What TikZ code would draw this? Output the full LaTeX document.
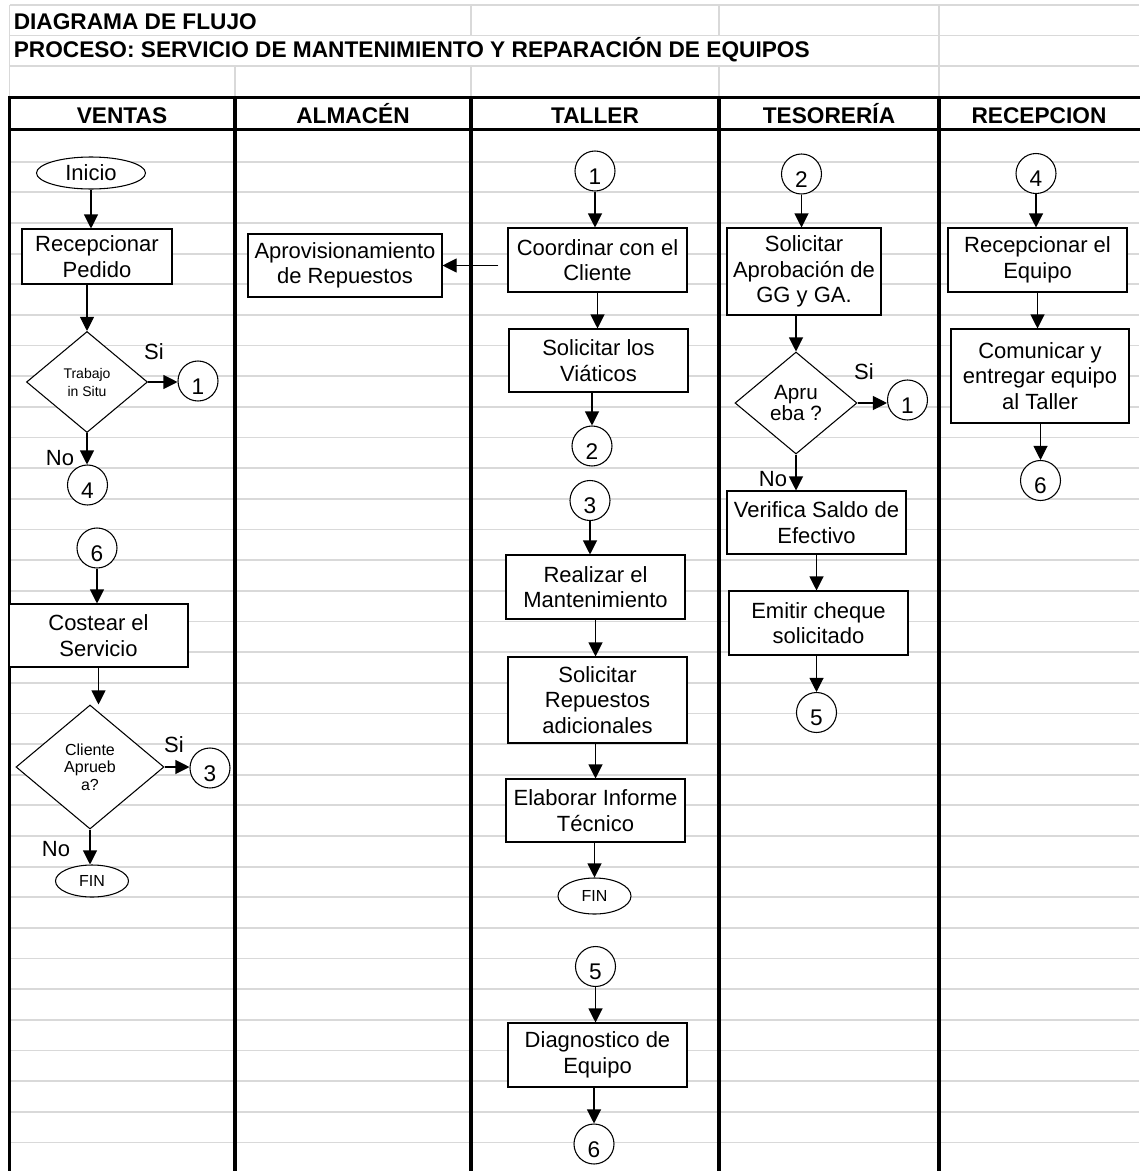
\documentclass[tikz,border=0pt]{standalone}
\usepackage{fontspec}
\setmainfont{Liberation Sans}
\usetikzlibrary{shapes.geometric,arrows.meta}
\definecolor{gridgray}{RGB}{217,217,217}
\begin{document}
\begin{tikzpicture}[x=0.75pt,y=-0.75pt,
  proc/.style={draw,line width=0.8pt,fill=white,rectangle,inner sep=0pt,align=center,font=\fontsize{16.5pt}{19.2pt}\selectfont},
  dec/.style={draw,line width=0.8pt,fill=white,diamond,inner sep=0pt,align=center},
  termnode/.style={draw,line width=0.8pt,fill=white,ellipse,inner sep=0pt},
  conn/.style={draw,line width=0.8pt,fill=white,circle,inner sep=0pt,minimum size=30pt,text height=20pt,text depth=0pt,font=\fontsize{17pt}{19.2pt}\selectfont},
  arr/.style={line width=0.8pt,-{Triangle[length=10.5pt,width=10.5pt]}},
  lbl/.style={inner sep=0pt,font=\fontsize{16.5pt}{19.2pt}\selectfont},
  laneline/.style={line width=2.5pt,line cap=rect},
  gline/.style={draw=gridgray,line width=1.3pt},
  hdr/.style={inner sep=0pt,anchor=base,font=\fontsize{17pt}{19.2pt}\selectfont\bfseries},
]
\useasboundingbox (0,0) rectangle (1139,1171);
\fill[white] (0,0) rectangle (1139,1171);
% grid
\foreach \yy in {5,35.5,66} \draw[gline] (9.5,\yy) -- (1139,\yy);
\foreach \k in {0,...,32} \draw[gline] (9.5,{161.7+30.65*\k}) -- (1139,{161.7+30.65*\k});
\draw[gline] (9.5,5) -- (9.5,97.7);
\draw[gline] (235,66) -- (235,97.7);
\draw[gline] (471,5) -- (471,35.5) (471,66) -- (471,97.7);
\draw[gline] (719,5) -- (719,35.5) (719,66) -- (719,97.7);
\draw[gline] (939,5) -- (939,97.7);
% lanes
\draw[laneline] (9.5,97.7) -- (1139,97.7);
\draw[laneline] (9.5,129.3) -- (1139,129.3);
\foreach \xx in {9.5,235,471,719,939} \draw[laneline] (\xx,97.7) -- (\xx,1171);
% titles
\node[hdr,anchor=base west] (t1) at (13.5,29.3) {DIAGRAMA DE FLUJO};
\node[hdr,anchor=base west] (t2) at (13.5,57.3) {PROCESO: SERVICIO DE MANTENIMIENTO Y REPARACIÓN DE EQUIPOS};
\node[hdr] (h1) at (122,123.3) {VENTAS};
\node[hdr] (h2) at (353,123.3) {ALMACÉN};
\node[hdr] (h3) at (595,123.3) {TALLER};
\node[hdr] (h4) at (829,123.3) {TESORERÍA};
\node[hdr] (h5) at (1039,123.3) {RECEPCION};
% VENTAS
\node[termnode,minimum width=81.75pt,minimum height=24pt,font=\fontsize{16.5pt}{19.2pt}\selectfont] (ini) at (91,173) {Inicio};
\node[proc,minimum width=112.5pt,minimum height=41.25pt] (rp) at (97,256.5) {Recepcionar\\Pedido};
\node[dec,minimum width=90.75pt,minimum height=75.75pt,font=\fontsize{10.5pt}{13.5pt}\selectfont] (d1) at (87,382) {Trabajo\\in Situ};
\node[conn] (c1a) at (198,381) {1};
\node[conn] (c4a) at (87.5,485) {4};
\node[conn] (c6a) at (97,548) {6};
\node[proc,minimum width=134.25pt,minimum height=47.25pt] (cs) at (98.5,635.5) {Costear el\\Servicio};
\node[dec,minimum width=111pt,minimum height=93pt,font=\fontsize{12pt}{13.2pt}\selectfont] (d2) at (90,767) {Cliente\\Aprueb\\a?};
\node[conn] (c3a) at (210,768) {3};
\node[termnode,minimum width=54.75pt,minimum height=24pt,font=\fontsize{12pt}{14pt}\selectfont] (fin1) at (92,881) {FIN};
\node[lbl] (si1) at (154,352) {Si};
\node[lbl] (no1) at (60,458) {No};
\node[lbl] (si2) at (174,745) {Si};
\node[lbl] (no2) at (56,849) {No};
% ALMACEN
\node[proc,minimum width=145.5pt,minimum height=47.25pt] (apr) at (345,265.5) {Aprovisionamiento\\de Repuestos};
% TALLER
\node[conn] (c1b) at (595,171) {1};
\node[proc,minimum width=134.25pt,minimum height=48pt] (coord) at (597.5,260) {Coordinar con el\\Cliente};
\node[proc,minimum width=134.25pt,minimum height=47.25pt] (sv) at (598.5,360.5) {Solicitar los\\Viáticos};
\node[conn] (c2b) at (592,446) {2};
\node[conn] (c3b) at (590,500.5) {3};
\node[proc,minimum width=134.25pt,minimum height=48pt] (rm) at (595.5,587) {Realizar el\\Mantenimiento};
\node[proc,minimum width=134.25pt,minimum height=64.5pt] (sr) at (597.5,700) {Solicitar\\Repuestos\\adicionales};
\node[proc,minimum width=134.25pt,minimum height=47.25pt] (ei) at (595.5,810.5) {Elaborar Informe\\Técnico};
\node[termnode,minimum width=54.75pt,minimum height=27pt,font=\fontsize{12pt}{14pt}\selectfont] (fin2) at (594.5,896) {FIN};
\node[conn] (c5b) at (595.5,966.5) {5};
\node[proc,minimum width=134.25pt,minimum height=48pt] (dg) at (597.5,1055) {Diagnostico de\\Equipo};
\node[conn] (c6b) at (594,1144) {6};
% TESORERIA
\node[conn] (c2c) at (801.5,174) {2};
\node[proc,minimum width=115.5pt,minimum height=65.25pt] (sa) at (804,271.5) {Solicitar\\Aprobación de\\GG y GA.};
\node[dec,minimum width=91.5pt,minimum height=76.5pt,font=\fontsize{15.5pt}{16.3pt}\selectfont] (d3) at (796,403) {Apru\\eba ?};
\node[conn] (c1c) at (907.5,400) {1};
\node[proc,minimum width=134.25pt,minimum height=47.25pt] (vs) at (816.5,522.5) {Verifica Saldo de\\Efectivo};
\node[proc,minimum width=134.25pt,minimum height=48pt] (ec) at (818.5,623) {Emitir cheque\\solicitado};
\node[conn] (c5c) at (816.5,712.5) {5};
\node[lbl] (si3) at (864,372) {Si};
\node[lbl] (no3) at (773,479) {No};
% RECEPCION
\node[conn] (c4e) at (1036,173.5) {4};
\node[proc,minimum width=134.25pt,minimum height=48pt] (re) at (1037.5,260) {Recepcionar el\\Equipo};
\node[proc,minimum width=133.5pt,minimum height=70.5pt] (ce) at (1040,376) {Comunicar y\\entregar equipo\\al Taller};
\node[conn] (c6e) at (1040.5,480.5) {6};
% arrows VENTAS
\draw[arr] (ini.south) -- (ini.south |- rp.north);
\draw[arr] (d1.north |- rp.south) -- (d1.north);
\draw[arr] (d1.east) -- (d1.east -| c1a.west);
\draw[arr] (d1.south) -- (d1.south |- c4a.north);
\draw[arr] (c6a.south) -- (c6a.south |- cs.north);
\draw[arr] (cs.south) -- (cs.south |- d2.north);
\draw[arr] (d2.east) -- (d2.east -| c3a.west);
\draw[arr] (d2.south) -- (d2.south |- fin1.north);
% arrows TALLER
\draw[arr,shorten <=6.75pt] (coord.west |- apr.east) -- (apr.east);
\draw[arr] (c1b.south) -- (c1b.south |- coord.north);
\draw[arr] (coord.south) -- (coord.south |- sv.north);
\draw[arr] (c2b.north |- sv.south) -- (c2b.north);
\draw[arr] (c3b.south) -- (c3b.south |- rm.north);
\draw[arr] (rm.south) -- (rm.south |- sr.north);
\draw[arr] (ei.north |- sr.south) -- (ei.north);
\draw[arr] (fin2.north |- ei.south) -- (fin2.north);
\draw[arr] (c5b.south) -- (c5b.south |- dg.north);
\draw[arr] (c6b.north |- dg.south) -- (c6b.north);
% arrows TESORERIA
\draw[arr] (c2c.south) -- (c2c.south |- sa.north);
\draw[arr] (d3.north |- sa.south) -- (d3.north);
\draw[arr] (d3.east) -- (d3.east -| c1c.west);
\draw[arr] (d3.south) -- (d3.south |- vs.north);
\draw[arr] (vs.south) -- (vs.south |- ec.north);
\draw[arr] (c5c.north |- ec.south) -- (c5c.north);
% arrows RECEPCION
\draw[arr] (c4e.south) -- (c4e.south |- re.north);
\draw[arr] (re.south) -- (re.south |- ce.north);
\draw[arr] (c6e.north |- ce.south) -- (c6e.north);
\end{tikzpicture}
\end{document}
